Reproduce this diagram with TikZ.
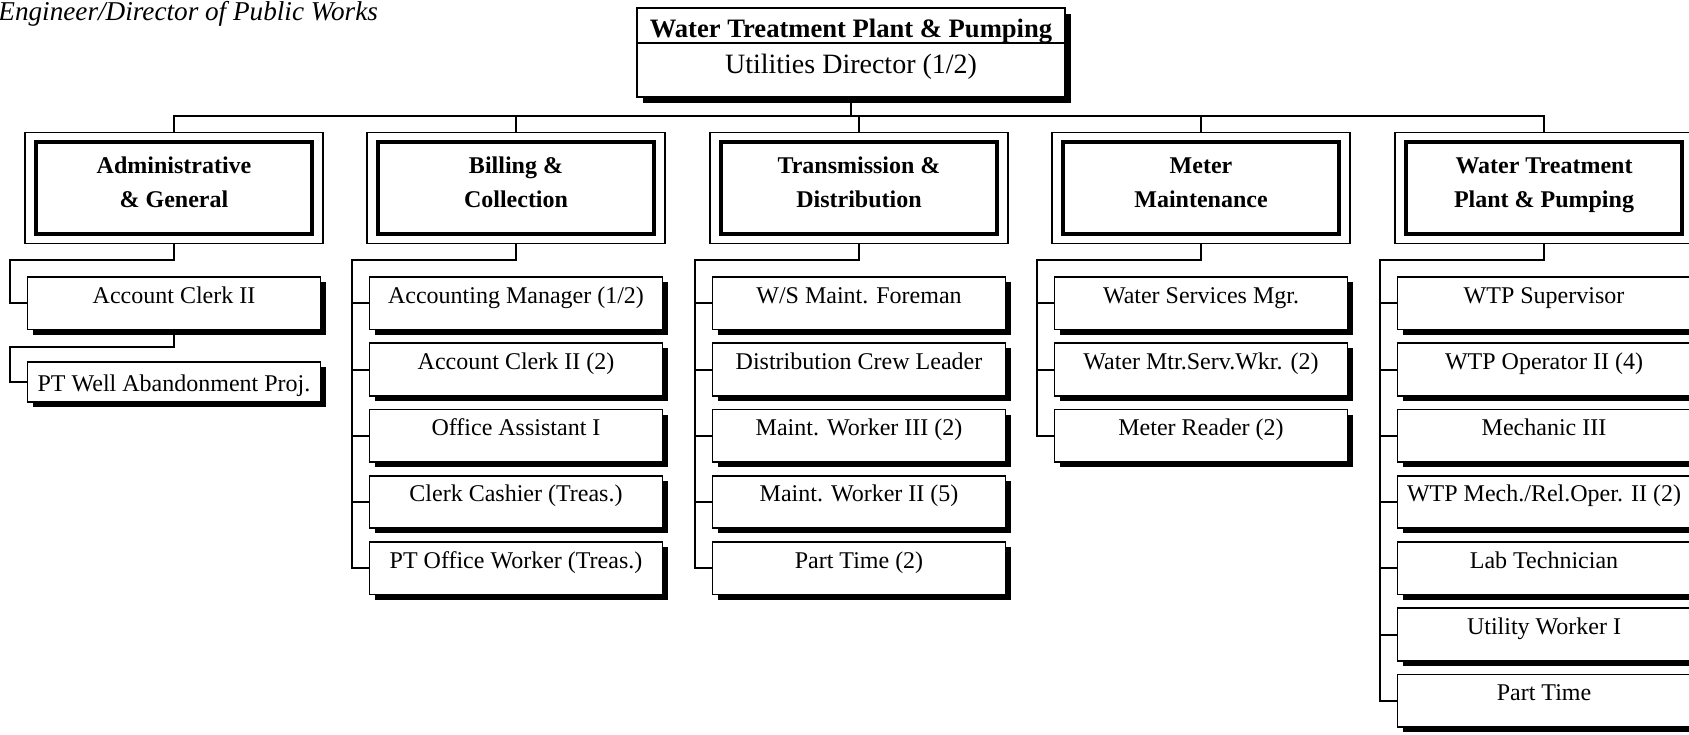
\documentclass[tikz,border=0pt]{standalone}
\usepackage{fontspec}
\setmainfont{Liberation Serif}
\usetikzlibrary{shadows}

\begin{document}
\begin{tikzpicture}[x=0.5pt, y=-0.5pt,
    link/.style={line width=1pt},
    headbox/.style={draw, line width=1pt, fill=white, minimum width=214pt, minimum height=44.5pt,
        drop shadow={shadow xshift=3pt, shadow yshift=-3pt, fill=black, opacity=1}},
    deptframe/.style={draw, line width=0.8pt, minimum width=149pt, minimum height=55.5pt},
    dept/.style={draw, line width=2pt, inner sep=0pt, minimum width=138pt, align=center,
        text height=32.75pt, text depth=13.5pt, font=\fontsize{12}{17}\selectfont\bfseries},
    jobbox/.style={draw, line width=0.8pt, fill=white, inner sep=0pt, minimum width=146.5pt,
        text height=13pt, text depth=13.25pt, font=\fontsize{12}{14}\selectfont,
        drop shadow={shadow xshift=2.5pt, shadow yshift=-2.5pt, fill=black, opacity=1}}]

    \useasboundingbox (0,0) rectangle (1689,734);

    \node[anchor=base west, inner sep=0pt, font=\fontsize{13.6}{16}\selectfont\itshape] (engineer)
        at (-2,20) {Engineer/Director of Public Works};

    % utilities director
    \node[headbox] (head) at (851,52.5) {};
    \draw[link] ([yshift=-18pt]head.north west) -- ([yshift=-18pt]head.north east);
    \node[anchor=base, font=\fontsize{13.3}{16}\selectfont\bfseries] (headtitle)
        at (851,37) {Water Treatment Plant \& Pumping};
    \node[anchor=base, font=\fontsize{14}{16}\selectfont] (headsub)
        at (851,73) {Utilities Director (1/2)};

    % divisions
    \node[deptframe] (admin) at (174,188) {};
    \node[dept] (admin-in) at (174,188) {Administrative\\\& General};
    \node[deptframe] (billing) at (516,188) {};
    \node[dept] (billing-in) at (516,188) {Billing \&\\Collection};
    \node[deptframe] (trans) at (859,188) {};
    \node[dept] (trans-in) at (859,188) {Transmission \&\\Distribution};
    \node[deptframe] (meter) at (1201,188) {};
    \node[dept] (meter-in) at (1201,188) {Meter\\Maintenance};
    \node[deptframe] (wtp) at (1544,188) {};
    \node[dept] (wtp-in) at (1544,188) {Water Treatment\\Plant \& Pumping};

    % positions
    \node[jobbox] (admin1) at (174,303.25) {Account Clerk II};
    \node[jobbox, text height=14.5pt, text depth=5.5pt] (admin2) at (174,382) {PT Well Abandonment Proj.};

    \node[jobbox] (billing1) at (516,303.25) {Accounting Manager (1/2)};
    \node[jobbox] (billing2) at (516,369.5) {Account Clerk II (2)};
    \node[jobbox] (billing3) at (516,435.75) {Office Assistant I};
    \node[jobbox] (billing4) at (516,502) {Clerk Cashier (Treas.)};
    \node[jobbox] (billing5) at (516,568.25) {PT Office Worker (Treas.)};

    \node[jobbox] (trans1) at (859,303.25) {W/S Maint. Foreman};
    \node[jobbox] (trans2) at (859,369.5) {Distribution Crew Leader};
    \node[jobbox] (trans3) at (859,435.75) {Maint. Worker III (2)};
    \node[jobbox] (trans4) at (859,502) {Maint. Worker II (5)};
    \node[jobbox] (trans5) at (859,568.25) {Part Time (2)};

    \node[jobbox] (meter1) at (1201,303.25) {Water Services Mgr.};
    \node[jobbox] (meter2) at (1201,369.5) {Water Mtr.Serv.Wkr. (2)};
    \node[jobbox] (meter3) at (1201,435.75) {Meter Reader (2)};

    \node[jobbox] (wtp1) at (1544,303.25) {WTP Supervisor};
    \node[jobbox] (wtp2) at (1544,369.5) {WTP Operator II (4)};
    \node[jobbox] (wtp3) at (1544,435.75) {Mechanic III};
    \node[jobbox] (wtp4) at (1544,502) {WTP Mech./Rel.Oper. II (2)};
    \node[jobbox] (wtp5) at (1544,568.25) {Lab Technician};
    \node[jobbox] (wtp6) at (1544,634.5) {Utility Worker I};
    \node[jobbox] (wtp7) at (1544,700.75) {Part Time};

    % top bus
    \coordinate (busend) at (1544,116);
    \draw[link] (admin.north) |- (busend) -- (wtp.north);
    \draw[link] (head.south) -- (head.south |- busend);
    \draw[link] (billing.north) -- (billing.north |- busend);
    \draw[link] (trans.north) -- (trans.north |- busend);
    \draw[link] (meter.north) -- (meter.north |- busend);

    % column trunks
    \coordinate (adminT) at (10,260);
    \coordinate (adminT2) at (10,347);
    \coordinate (billingT) at (352,260);
    \coordinate (transT) at (695,260);
    \coordinate (meterT) at (1037,260);
    \coordinate (wtpT) at (1380,260);

    \draw[link] (admin.south) |- (adminT) |- (admin1.west);
    \draw[link] (admin1.south) |- (adminT2) |- (admin2.west);

    \draw[link] (billing.south) |- (billingT) |- (billing5.west);
    \draw[link] (billingT |- billing1.west) -- (billing1.west);
    \draw[link] (billingT |- billing2.west) -- (billing2.west);
    \draw[link] (billingT |- billing3.west) -- (billing3.west);
    \draw[link] (billingT |- billing4.west) -- (billing4.west);

    \draw[link] (trans.south) |- (transT) |- (trans5.west);
    \draw[link] (transT |- trans1.west) -- (trans1.west);
    \draw[link] (transT |- trans2.west) -- (trans2.west);
    \draw[link] (transT |- trans3.west) -- (trans3.west);
    \draw[link] (transT |- trans4.west) -- (trans4.west);

    \draw[link] (meter.south) |- (meterT) |- (meter3.west);
    \draw[link] (meterT |- meter1.west) -- (meter1.west);
    \draw[link] (meterT |- meter2.west) -- (meter2.west);

    \draw[link] (wtp.south) |- (wtpT) |- (wtp7.west);
    \draw[link] (wtpT |- wtp1.west) -- (wtp1.west);
    \draw[link] (wtpT |- wtp2.west) -- (wtp2.west);
    \draw[link] (wtpT |- wtp3.west) -- (wtp3.west);
    \draw[link] (wtpT |- wtp4.west) -- (wtp4.west);
    \draw[link] (wtpT |- wtp5.west) -- (wtp5.west);
    \draw[link] (wtpT |- wtp6.west) -- (wtp6.west);
\end{tikzpicture}
\end{document}
